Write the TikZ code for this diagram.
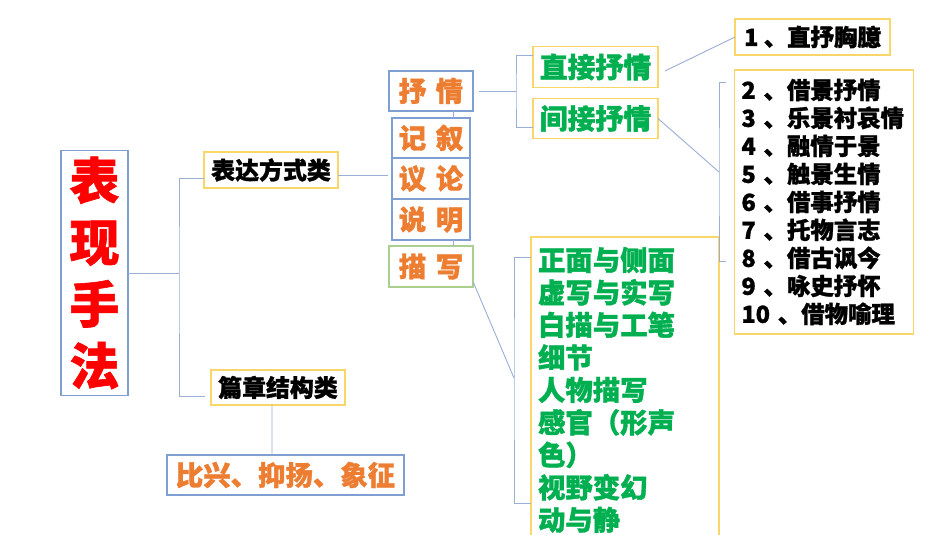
\documentclass[tikz,border=0pt]{standalone}
\usepackage{fontspec}
\setmainfont{Noto Sans CJK SC}[BoldFeatures={FakeBold=1.2}]
\usetikzlibrary{positioning}
\definecolor{lineBlue}{HTML}{9AAED6}
\definecolor{boxBlue}{HTML}{7F9FD3}
\definecolor{boxYellow}{HTML}{F8D66A}
\definecolor{boxGreen}{HTML}{A9D08E}
\definecolor{txtOrange}{HTML}{ED7D31}
\definecolor{txtGreen}{HTML}{00B050}
\definecolor{txtRed}{HTML}{FF0000}

\begin{document}
\begin{tikzpicture}[
  x=1bp,y=-1bp,
  box/.style={fill=white,inner sep=0pt,outer sep=0pt,line width=1.4bp,font=\bfseries},
  bluebox/.style={box,draw=boxBlue},
  yellowbox/.style={box,draw=boxYellow},
  greenbox/.style={box,draw=boxGreen},
  link/.style={draw=lineBlue,line width=0.9bp}
]
\useasboundingbox[fill=white] (0,0) rectangle (950,535);

% left part
\node[bluebox,minimum width=67bp,minimum height=245bp,align=center,text=txtRed,
  font=\bfseries\fontsize{50}{62}\selectfont] (title) at (94.5,273) {表\\现\\手\\法};
\node[yellowbox,minimum width=134bp,minimum height=36bp,font=\bfseries\fontsize{24}{28}\selectfont] (fangshi) at (271,170) {表达方式类};
\node[yellowbox,minimum width=134bp,minimum height=35bp,font=\bfseries\fontsize{24}{28}\selectfont] (jiegou) at (278,387.5) {篇章结构类};
\node[bluebox,minimum width=237bp,minimum height=40bp,text=txtOrange,font=\bfseries\fontsize{27.5}{32}\selectfont] (bixing) at (285.5,475) {比兴、抑扬、象征};

% middle column
\node[bluebox,minimum width=84bp,minimum height=40bp,text=txtOrange,font=\bfseries\fontsize{27.5}{30}\selectfont] (shuqing) at (431,91) {抒\hspace{0.35em}情};
\node[bluebox,minimum width=78bp,minimum height=40bp,text=txtOrange,font=\bfseries\fontsize{27.5}{30}\selectfont] (jixu) at (431,138) {记\hspace{0.35em}叙};
\node[bluebox,minimum width=78bp,minimum height=41bp,text=txtOrange,font=\bfseries\fontsize{27.5}{30}\selectfont,below=0pt of jixu] (yilun) {议\hspace{0.35em}论};
\node[bluebox,minimum width=78bp,minimum height=41bp,text=txtOrange,font=\bfseries\fontsize{27.5}{30}\selectfont,below=0pt of yilun] (shuoming) {说\hspace{0.35em}明};
\node[greenbox,minimum width=84bp,minimum height=41bp,text=txtOrange,font=\bfseries\fontsize{27.5}{30}\selectfont] (miaoxie) at (431,266.5) {描\hspace{0.35em}写};

% right part
\node[yellowbox,minimum width=125bp,minimum height=41bp,text=txtGreen,font=\bfseries\fontsize{28}{32}\selectfont] (zhijie) at (595.5,67) {直接抒情};
\node[yellowbox,minimum width=125bp,minimum height=40bp,text=txtGreen,font=\bfseries\fontsize{28}{32}\selectfont] (jianjie) at (595.5,118.5) {间接抒情};
\node[yellowbox,minimum width=155bp,minimum height=36bp,font=\bfseries\fontsize{23.5}{28}\selectfont] (zhishu) at (812.5,37) {1 、直抒胸臆};
\node[yellowbox,minimum width=178bp,minimum height=264bp,text width=165bp,inner xsep=7bp,align=left,
  font=\bfseries\fontsize{23.5}{28.1}\selectfont] (list) at (824,202)
  {2 、借景抒情\\3 、乐景衬哀情\\4 、融情于景\\5 、触景生情\\6 、借事抒情\\7 、托物言志\\8 、借古讽今\\9 、咏史抒怀\\10 、借物喻理};
\node[yellowbox,anchor=north,minimum width=188bp,text width=174bp,inner ysep=10bp,align=left,text=txtGreen,
  font=\bfseries\fontsize{27.5}{32.6}\selectfont] (greenlist) at (625,237)
  {正面与侧面\\虚写与实写\\白描与工笔\\细节\\人物描写\\感官（形声\\色）\\视野变幻\\动与静};

% connectors
\coordinate (forkA) at (179,273);
\coordinate (forkB) at (388,175);
\coordinate (forkC) at (516,91);
\coordinate (forkD) at (719,172);
\coordinate (hookD1) at (726,82);
\coordinate (hookD2) at (726,261);
\coordinate (forkE) at (514,378);
\coordinate (hookE1) at (531,257);
\coordinate (hookE2) at (531,503);

\draw[link] (title.east |- forkA) -- (forkA);
\draw[link] ([yshift=-8bp]fangshi.west) -| (forkA) |- ([xshift=-6bp,yshift=-8.5bp]jiegou.west);
\draw[link] ([xshift=-6bp]jiegou.south) -- ([xshift=-13.5bp]bixing.north);
\draw[link] (fangshi.east |- forkB) -- (forkB);
\draw[link] ([xshift=22bp]shuqing.south) -- ([xshift=22bp]jixu.north);
\draw[link] ([xshift=22bp]shuoming.south) -- ([xshift=22bp]miaoxie.north);
\draw[link] ([xshift=6bp]shuqing.east) -- (forkC);
\draw[link] ([yshift=12bp]zhijie.west) -| (forkC) |- ([yshift=-8.5bp]jianjie.west);
\draw[link] ([xshift=7bp,yshift=-4bp]zhijie.east) -- (zhishu.west);
\draw[link] (jianjie.east) -- (forkD);
\draw[link] (hookD1) -| (forkD) |- (hookD2);
\draw[link] ([yshift=-15bp]miaoxie.east) -- (forkE);
\draw[link] (hookE1) -| (forkE) |- (hookE2);
\end{tikzpicture}
\end{document}
